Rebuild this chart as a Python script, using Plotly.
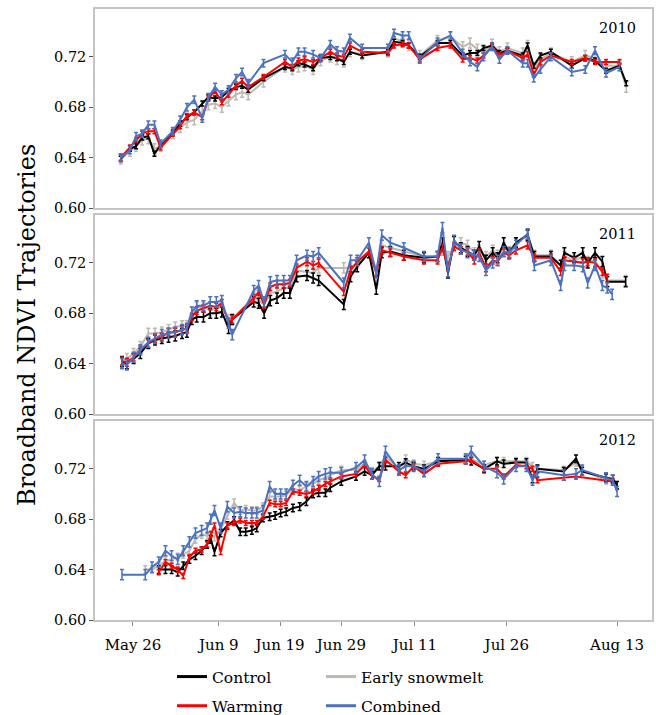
import plotly.graph_objects as go
from plotly.subplots import make_subplots

# ---------------- data (day of year) ----------------
series_names = ["Control", "Warming", "Early snowmelt", "Combined"]
series_colors = ["#000000", "#ff0000", "#bdb8b0", "#4a72c0"]
years = ["2010", "2011", "2012"]

tick_days = [146, 160, 170, 180, 192, 207, 225]
tick_labels = ["May 26", "Jun 9", "Jun 19", "Jun 29", "Jul 11", "Jul 26", "Aug 13"]
y_ticks = [0.60, 0.64, 0.68, 0.72]

dates_2010 = [144, 145.5, 146.5, 147.5, 148.5, 149.5, 150.5, 152.5, 153.7, 154.8,
              156, 157.3, 158.3, 159.4, 160.5, 161.6, 162.8, 163.8, 164.8, 167.3,
              170.8, 172, 173, 174, 175.4, 176.6, 178.2, 179.3, 180.4, 181.4,
              183.4, 187.6, 188.6, 190, 191, 192.8, 195.7, 197.8, 199.8, 201,
              202.2, 203.2, 204.6, 205.8, 207.1, 209.6, 210.4, 211.4, 212.5, 214.2,
              217.6, 219.8, 221.4, 223.2, 225.4, 226.5]
control_2010 = [0.639, 0.647, 0.649, 0.656, 0.657, 0.643, 0.650, 0.660, 0.667, 0.672,
                0.676, 0.683, 0.688, 0.687, 0.688, 0.693, 0.696, 0.697, 0.694, 0.703,
                0.712, 0.711, 0.715, 0.714, 0.711, 0.719, 0.720, 0.719, 0.716, 0.724,
                0.721, 0.724, 0.732, 0.731, 0.729, 0.720, 0.731, 0.731, 0.721, 0.723,
                0.723, 0.727, 0.729, 0.723, 0.725, 0.721, 0.729, 0.713, 0.721, 0.724,
                0.713, 0.719, 0.717, 0.709, 0.713, 0.699]
warming_2010 = [0.640, 0.648, 0.654, 0.659, 0.661, 0.661, 0.648, 0.659, 0.665, 0.673,
                0.676, 0.672, 0.687, 0.693, 0.684, 0.690, 0.697, 0.701, 0.696, 0.704,
                0.716, 0.712, 0.717, 0.718, 0.716, 0.719, 0.724, 0.721, 0.720, 0.729,
                0.724, 0.723, 0.729, 0.730, 0.729, 0.718, 0.727, 0.729, 0.718, 0.719,
                0.717, 0.721, 0.728, 0.721, 0.725, 0.719, 0.722, 0.706, 0.716, 0.721,
                0.716, 0.719, 0.716, 0.716, 0.716, None]
snow_2010 = [0.639, 0.645, 0.649, 0.654, 0.655, 0.647, 0.649, 0.659, 0.664, 0.668,
             0.670, 0.677, 0.682, 0.683, 0.680, 0.685, 0.690, 0.692, 0.690, 0.700,
             0.712, 0.710, 0.712, 0.713, 0.710, 0.717, 0.720, 0.718, 0.716, 0.724,
             0.722, 0.724, 0.735, 0.732, 0.729, 0.721, 0.733, 0.736, 0.728, 0.731,
             0.726, 0.724, 0.730, 0.724, 0.727, 0.723, 0.729, 0.710, 0.718, 0.723,
             0.716, 0.721, 0.719, 0.713, 0.713, 0.696]
combined_2010 = [0.640, 0.646, 0.657, 0.659, 0.666, 0.666, 0.651, 0.661, 0.670, 0.680,
                 0.686, 0.671, 0.688, 0.696, 0.690, 0.694, 0.703, 0.708, 0.699, 0.715,
                 0.722, 0.716, 0.724, 0.724, 0.722, 0.719, 0.730, 0.725, 0.724, 0.735,
                 0.727, 0.727, 0.739, 0.737, 0.737, 0.718, 0.732, 0.737, 0.723, 0.716,
                 0.712, 0.720, 0.728, 0.718, 0.725, 0.715, 0.715, 0.703, 0.710, 0.720,
                 0.708, 0.710, 0.725, 0.707, 0.712, None]

dates_2011 = [144.2, 145, 146.1, 147.2, 148.5, 149.6, 150.7, 151.8, 152.9, 154,
              154.8, 155.6, 156.4, 157.5, 158.6, 159.6, 160.5, 161.6, 162.2, 165.7,
              166.5, 167.4, 168.4, 169.5, 170.6, 171.6, 172.7, 174.4, 175.4, 176.3,
              180.4, 181.5, 182.6, 184.5, 185.7, 186.6, 188, 190.2, 193.5, 195.7,
              196.5, 197.4, 198.4, 199.5, 200.6, 201.7, 202.5, 203.6, 204.7, 205.5,
              206.5, 207.4, 208.5, 210.4, 211.5, 214.2, 215.8, 216.4, 218, 219.4,
              220.2, 221.4, 222.6, 223.4, 224.2, 226.4]
control_2011 = [0.6415, 0.640, 0.644, 0.648, 0.656, 0.6587, 0.660, 0.661, 0.662, 0.664,
                0.665, 0.675, 0.677, 0.677, 0.680, 0.680, 0.681, 0.668, 0.675, 0.689,
                0.688, 0.680, 0.690, 0.692, 0.696, 0.696, 0.709, 0.710, 0.708, 0.706,
                0.687, 0.709, 0.717, 0.728, 0.699, 0.728, 0.729, 0.726, 0.724, 0.725,
                0.736, 0.712, 0.737, 0.732, 0.729, 0.726, 0.733, 0.722, 0.728, 0.724,
                0.736, 0.728, 0.736, 0.742, 0.725, 0.725, 0.718, 0.728, 0.724, 0.728,
                0.720, 0.728, 0.721, 0.705, None, 0.705]
warming_2011 = [0.642, 0.641, 0.645, 0.651, 0.656, 0.660, 0.661, 0.665, 0.665, 0.667,
                0.668, 0.677, 0.682, 0.684, 0.686, 0.685, 0.688, 0.673, 0.675, 0.692,
                0.697, 0.687, 0.701, 0.703, 0.703, 0.704, 0.716, 0.721, 0.718, 0.720,
                0.697, 0.714, 0.721, 0.729, 0.712, 0.730, 0.728, 0.725, 0.722, 0.722,
                0.732, 0.717, 0.733, 0.730, 0.729, 0.722, 0.728, 0.716, 0.722, 0.721,
                0.728, 0.726, 0.730, 0.734, 0.724, 0.724, 0.713, 0.722, 0.721, 0.720,
                0.721, 0.720, 0.713, 0.708, None, None]
snow_2011 = [0.642, 0.644, 0.648, 0.6535, 0.664, 0.664, 0.665, 0.667, 0.669, 0.670,
             0.670, 0.681, 0.685, 0.685, 0.682, 0.684, 0.685, 0.675, 0.675, 0.693,
             0.690, 0.687, 0.696, 0.697, 0.700, 0.700, 0.714, 0.713, 0.712, 0.716,
             0.716, 0.716, 0.720, 0.728, 0.714, 0.734, 0.732, 0.729, 0.725, 0.725,
             0.730, 0.725, 0.733, 0.736, 0.734, 0.728, 0.730, 0.725, 0.730, 0.726,
             0.732, 0.729, 0.736, 0.743, 0.726, 0.726, 0.718, 0.725, 0.722, 0.725,
             0.721, 0.722, 0.712, 0.706, None, 0.706]
combined_2011 = [0.640, 0.639, 0.645, 0.651, 0.657, 0.660, 0.663, 0.664, 0.665, 0.667,
                 0.668, 0.681, 0.686, 0.686, 0.689, 0.689, 0.690, 0.672, 0.663, 0.698,
                 0.702, 0.689, 0.705, 0.706, 0.706, 0.706, 0.722, 0.726, 0.725, 0.728,
                 0.704, 0.722, 0.722, 0.736, 0.712, 0.742, 0.736, 0.732, 0.725, 0.725,
                 0.748, 0.713, 0.738, 0.731, 0.728, 0.726, 0.725, 0.714, 0.720, 0.722,
                 0.729, 0.728, 0.734, 0.743, 0.718, 0.722, 0.702, 0.718, 0.718, 0.717,
                 0.704, 0.718, 0.702, 0.700, 0.695, None]

dates_2012 = [144.2, 148, 149.1, 150.2, 151.3, 152.3, 153.3, 154.2, 155.2, 156.2,
              157.2, 158.1, 158.7, 159.3, 160.3, 161.4, 162.5, 163.5, 164.4, 165.4,
              166.2, 167.2, 168.3, 169.2, 170.1, 171.0, 172.1, 173.2, 174.3, 175.4,
              176.3, 177.4, 178.2, 180.0, 182.4, 183.8, 185.0, 186.2, 187.2, 189.4,
              190.5, 191.8, 193.5, 195.8, 200.3, 201.2, 203.3, 205.4, 206.5, 208.5,
              210.2, 211.2, 212.0, 216.3, 218.3, 219.3, 223.2, 224.3, 225.0]
control_2012 = [None, None, None, 0.640, 0.640, 0.640, 0.638, 0.643, 0.648, 0.651,
                0.655, 0.660, 0.664, 0.654, 0.669, 0.675, 0.679, 0.670, 0.670, 0.671,
                0.673, 0.681, 0.682, 0.683, 0.685, 0.686, 0.689, 0.690, 0.694, 0.700,
                0.701, 0.701, 0.705, 0.710, 0.714, 0.718, 0.715, 0.722, 0.722, 0.722,
                0.725, 0.722, 0.720, 0.726, 0.727, 0.726, 0.720, 0.726, 0.724, 0.725,
                0.725, 0.712, 0.720, 0.718, 0.728, 0.718, 0.713, 0.712, 0.707]
warming_2012 = [None, None, None, 0.638, 0.646, 0.643, 0.640, 0.635, 0.650, 0.655,
                0.656, 0.660, 0.668, 0.675, 0.654, 0.675, 0.677, 0.679, 0.677, 0.677,
                0.677, 0.682, 0.693, 0.692, 0.692, 0.693, 0.702, 0.701, 0.700, 0.702,
                0.705, 0.708, 0.710, 0.714, 0.716, 0.723, 0.714, 0.712, 0.727, 0.718,
                0.715, 0.722, 0.716, 0.724, 0.726, 0.727, 0.720, 0.720, 0.714, 0.723,
                0.722, 0.720, 0.711, 0.713, 0.714, None, None, 0.710, None]
snow_2012 = [None, 0.640, 0.640, 0.643, 0.647, 0.648, 0.650, 0.652, 0.655, 0.664,
             0.668, 0.667, 0.668, 0.666, 0.672, 0.683, 0.693, 0.687, 0.688, 0.687,
             0.687, 0.690, 0.698, 0.698, 0.698, 0.699, 0.704, 0.703, 0.706, 0.708,
             0.711, 0.713, 0.715, 0.719, 0.719, 0.724, 0.718, 0.722, 0.730, 0.720,
             0.728, 0.724, 0.723, 0.726, 0.728, 0.728, 0.723, 0.726, 0.726, 0.726,
             0.726, 0.722, 0.720, 0.719, 0.725, 0.719, 0.711, 0.710, 0.707]
combined_2012 = [0.636, 0.636, 0.642, 0.646, 0.655, 0.651, 0.648, 0.655, 0.662, 0.669,
                 0.671, 0.673, 0.680, 0.687, 0.673, 0.690, 0.685, 0.686, 0.685, 0.685,
                 0.685, 0.687, 0.706, 0.700, 0.700, 0.700, 0.707, 0.711, 0.706, 0.710,
                 0.714, 0.716, 0.717, 0.717, 0.721, 0.727, 0.716, 0.710, 0.734, 0.719,
                 0.722, 0.722, 0.718, 0.728, 0.728, 0.734, 0.722, 0.717, 0.712, 0.722,
                 0.722, 0.711, 0.718, 0.715, 0.716, 0.719, 0.713, 0.711, 0.702]

# standard errors per series (Control, Warming, Early snowmelt, Combined)
err_2010 = [0.002, 0.002, 0.004, 0.003]
err_2011 = [0.004, 0.003, 0.004, 0.004]
err_2012 = [0.003, 0.002, 0.003, 0.004]

panels = [
    (dates_2010, [control_2010, warming_2010, snow_2010, combined_2010], err_2010),
    (dates_2011, [control_2011, warming_2011, snow_2011, combined_2011], err_2011),
    (dates_2012, [control_2012, warming_2012, snow_2012, combined_2012], err_2012),
]
for d, vals, _ in panels:
    for v in vals:
        assert len(v) == len(d), (len(v), len(d))

FONT = "DejaVu Serif, Liberation Serif, serif"
W, H = 656, 715
fig = make_subplots(rows=3, cols=1, shared_xaxes=True, vertical_spacing=7 / 611)

draw_order = [2, 0, 1, 3]  # gray under black, red, blue on top
legend_of = {0: "legend", 1: "legend", 2: "legend2", 3: "legend2"}
for r, (d, vals, errs) in enumerate(panels, start=1):
    for i in draw_order:
        fig.add_trace(go.Scatter(
            x=d, y=vals[i], mode="lines", name=series_names[i],
            line=dict(color=series_colors[i], width=2),
            connectgaps=True,
            error_y=dict(type="constant", value=errs[i], color=series_colors[i],
                         thickness=1.5, width=2),
            legendgroup=series_names[i], legend=legend_of[i],
            showlegend=False, hoverinfo="skip",
        ), row=r, col=1)
    fig.add_annotation(text=years[r - 1], x=0.975, y=0.905,
                       xref=f"x{'' if r == 1 else r} domain",
                       yref=f"y{'' if r == 1 else r} domain",
                       xanchor="right", yanchor="middle", showarrow=False,
                       font=dict(family=FONT, size=14.5, color="#000"))

# legend entries (thicker key lines, as in the original legend)
for i in range(4):
    fig.add_trace(go.Scatter(
        x=[None], y=[None], mode="lines", name=series_names[i],
        line=dict(color=series_colors[i], width=3),
        legendgroup=series_names[i], legend=legend_of[i],
        legendrank=i, showlegend=True, hoverinfo="skip",
    ), row=1, col=1)

for r in range(1, 4):
    fig.update_xaxes(range=[139.8, 230.7], showline=True, mirror=True,
                     linecolor="#c4c4c4", linewidth=1.5, showgrid=False,
                     zeroline=False, tickvals=tick_days, ticktext=tick_labels,
                     ticks="outside" if r == 3 else "", ticklen=4, tickcolor="#888",
                     showticklabels=(r == 3), ticklabelstandoff=6,
                     tickfont=dict(family=FONT, size=15, color="#000"),
                     row=r, col=1)
    fig.update_yaxes(range=[0.60, 0.758], showline=True, mirror=True,
                     linecolor="#c4c4c4", linewidth=1.5, showgrid=False,
                     zeroline=False, tickvals=y_ticks,
                     ticktext=[f"{v:.2f}" for v in y_ticks],
                     ticks="outside", ticklen=4, tickcolor="#555",
                     tickfont=dict(family=FONT, size=14.5, color="#000"),
                     row=r, col=1)

fig.add_annotation(text="Broadband NDVI Trajectories",
                   x=(27 - 95) / 557, y=(620 - 325) / 611,
                   xref="paper", yref="paper", showarrow=False, textangle=-90,
                   xanchor="center", yanchor="middle",
                   font=dict(family=FONT, size=24, color="#000"))

legend_common = dict(orientation="v", bgcolor="rgba(0,0,0,0)",
                     font=dict(family=FONT, size=15.5, color="#000"),
                     tracegroupgap=6, xanchor="left", yanchor="top",
                     xref="container", yref="container", itemwidth=30)
fig.update_layout(
    width=W, height=H,
    font=dict(family=FONT, color="#000"),
    margin=dict(l=95, r=4, t=9, b=95, autoexpand=False),
    paper_bgcolor="white", plot_bgcolor="white",
    legend=dict(x=172 / W, y=(H - 660) / H, **legend_common),
    legend2=dict(x=321 / W, y=(H - 660) / H, **legend_common),
)

fig.write_html("out.html")
